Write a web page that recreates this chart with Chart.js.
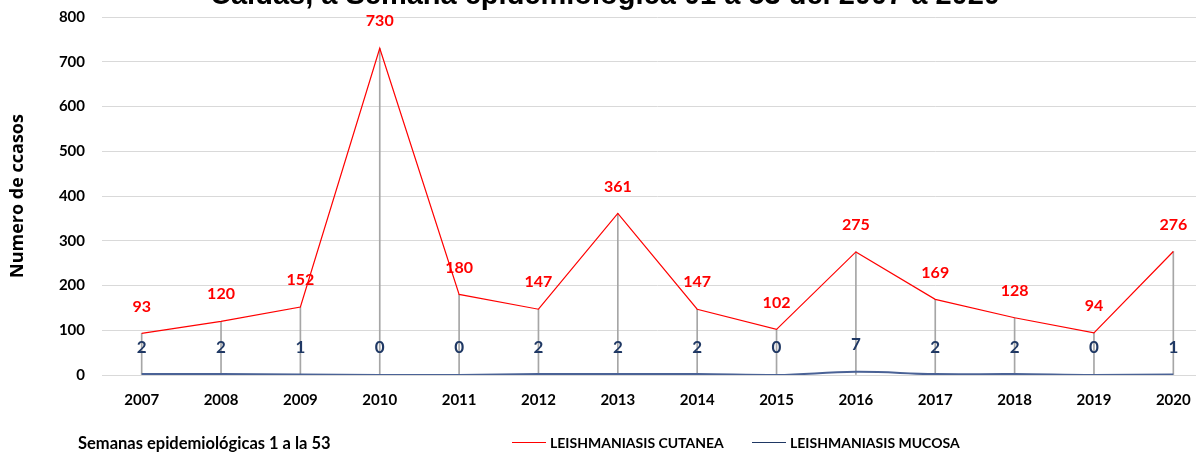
<!DOCTYPE html>
<html>
<head>
<meta charset="utf-8">
<script src="https://cdn.jsdelivr.net/npm/chart.js@4/dist/chart.umd.min.js"></script>
<style>
  html, body { margin: 0; padding: 0; background: #fff; overflow: hidden; width: 1196px; height: 454px; }
  #wrap { position: relative; width: 1196px; height: 454px; overflow: hidden; }
  #cv { position: absolute; left: 0; top: -9px; }
  #title { position: absolute; left: 0; width: 1210px; top: -20px; text-align: center;
           font: bold 29px "Liberation Sans", Arial, sans-serif; line-height: 29px; color: #000; white-space: nowrap; }
  #xtitle { position: absolute; left: 78px; top: 433px; font: bold 16.5px Lato, sans-serif; color: #000; white-space: nowrap; }
  .leg { position: absolute; top: 434px; font: bold 14px Lato, sans-serif; color: #000; white-space: nowrap; display: flex; align-items: center; }
  .leg span.l { display: inline-block; width: 34px; height: 0; margin-right: 4px; }
</style>
</head>
<body>
<div id="wrap">
  <canvas id="cv" width="1214" height="463" style="width:1214px;height:463px"></canvas>
  <div id="title">Caldas, a Semana epidemiológica 01 a 53 del 2007 a 2020</div>
  <div id="xtitle">Semanas epidemiológicas 1 a la 53</div>
  <div class="leg" style="left:512px"><span class="l" style="border-top:1.5px solid #ff0000"></span>LEISHMANIASIS CUTANEA</div>
  <div class="leg" style="left:752px"><span class="l" style="border-top:1.5px solid #1f3864"></span>LEISHMANIASIS MUCOSA</div>
</div>
<script>
const years = ['2007','2008','2009','2010','2011','2012','2013','2014','2015','2016','2017','2018','2019','2020'];
const cutanea = [93,120,152,730,180,147,361,147,102,275,169,128,94,276];
const mucosa = [2,2,1,0,0,2,2,2,0,7,2,2,0,1];
const yTicks = [0,100,200,300,400,500,600,700,800];

const labelPlugin = {
  id: 'valueLabels',
  afterDatasetsDraw(chart) {
    const ctx = chart.ctx;
    ctx.save();
    ctx.textAlign = 'center';
    ctx.textBaseline = 'middle';
    const specs = [[1, '#ff0000', 'bold 16px Lato, sans-serif'], [2, '#1f3864', 'bold 17px Lato, sans-serif']];
    specs.forEach(([di, color, font]) => {
      const meta = chart.getDatasetMeta(di);
      const data = chart.data.datasets[di].data;
      ctx.fillStyle = color;
      ctx.font = font;
      meta.data.forEach((pt, i) => {
        ctx.fillText(String(data[i]), pt.x, pt.y - 27);
      });
    });
    ctx.restore();
  }
};

new Chart(document.getElementById('cv'), {
  data: {
    labels: years,
    datasets: [
      {
        type: 'bar',
        label: 'drop',
        data: cutanea.map(v => [0, v]),
        backgroundColor: '#a6a6a6',
        barThickness: 1,
        order: 3
      },
      {
        type: 'line',
        label: 'LEISHMANIASIS CUTANEA',
        data: cutanea,
        borderColor: '#ff0000',
        backgroundColor: '#ff0000',
        borderWidth: 1.2,
        pointRadius: 0,
        tension: 0,
        fill: false,
        clip: false,
        order: 1
      },
      {
        type: 'line',
        label: 'LEISHMANIASIS MUCOSA',
        data: mucosa,
        borderColor: '#4a6296',
        backgroundColor: '#4a6296',
        borderWidth: 2,
        pointRadius: 0,
        tension: 0.4,
        fill: false,
        order: 2
      }
    ]
  },
  options: {
    responsive: false,
    animation: false,
    layout: { padding: { left: 0, top: 8, right: 1, bottom: 0 } },
    plugins: { legend: { display: false }, tooltip: { enabled: false }, title: { display: false } },
    scales: {
      x: {
        offset: true,
        grid: { display: false, drawTicks: false },
        border: { display: true, color: '#d9d9d9', width: 1 },
        ticks: { color: '#000', font: { family: 'Lato', size: 15, weight: 'bold' }, padding: 16, maxRotation: 0 },
        afterFit(s) { s.height = 79; }
      },
      y: {
        min: 0, max: 800,
        afterBuildTicks(s) { s.ticks = yTicks.map(v => ({ value: v })); },
        grid: { color: '#d9d9d9', drawTicks: false },
        border: { display: false },
        ticks: { color: '#000', font: { family: 'Lato', size: 15, weight: 'bold' }, padding: 17 },
        title: { display: true, text: 'Numero de ccasos', color: '#000', font: { family: 'Open Sans', size: 18, weight: 'bold' }, padding: { top: 7, bottom: 0 } },
        afterFit(s) { s.width = 102; }
      }
    }
  },
  plugins: [labelPlugin]
});
</script>
</body>
</html>
